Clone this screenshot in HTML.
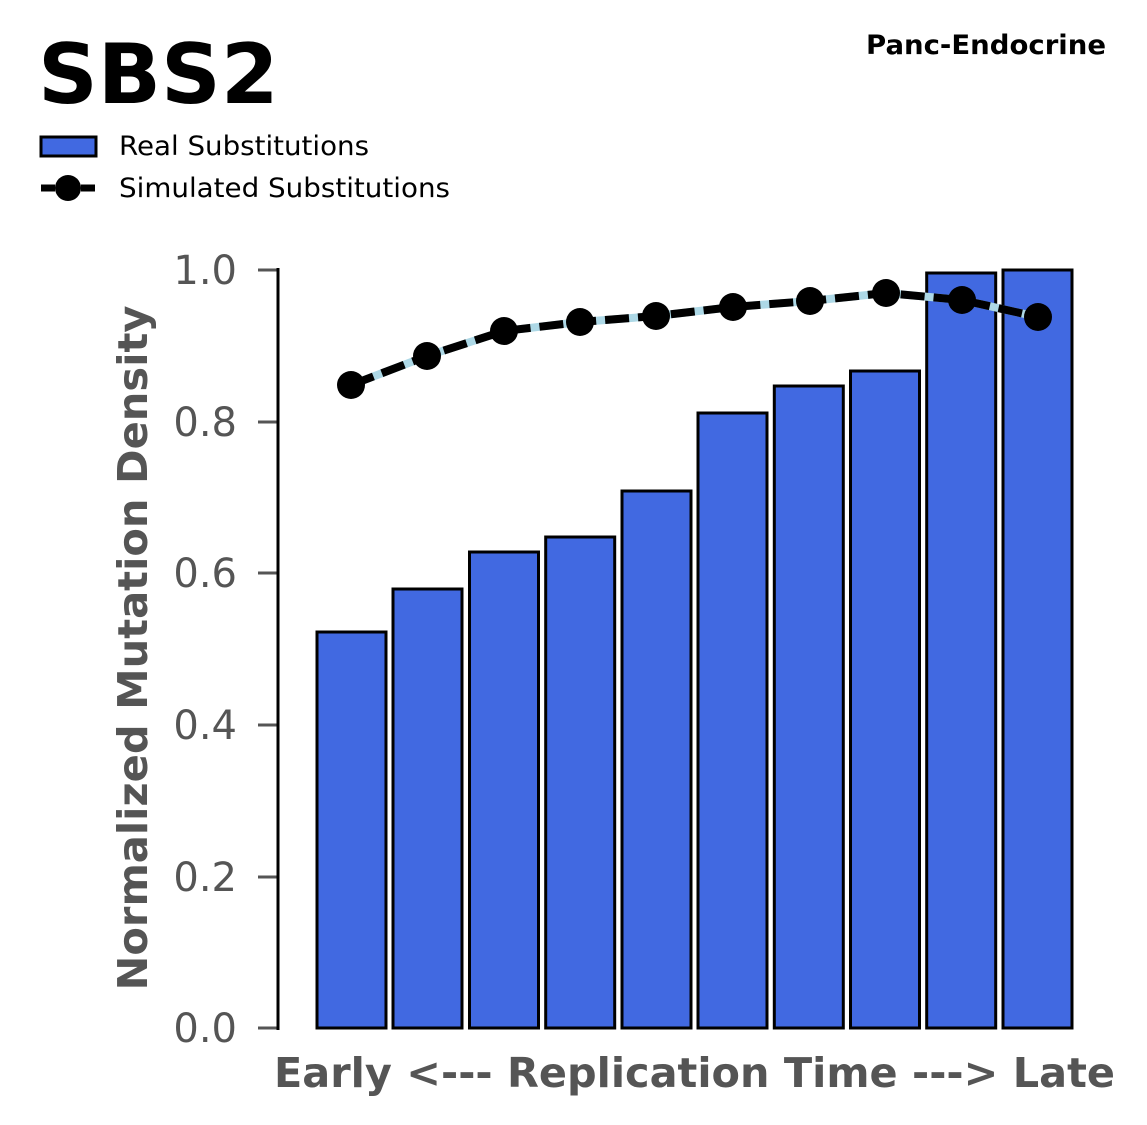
<!DOCTYPE html>
<html><head><meta charset="utf-8"><style>
html,body{margin:0;padding:0;background:#fff;}
svg{display:block;font-family:"DejaVu Sans","Liberation Sans",sans-serif;}
</style></head><body>
<svg width="1147" height="1125" viewBox="0 0 1147 1125">
<text x="38" y="103" font-size="83" font-weight="bold" fill="#000">SBS2</text>
<text x="1106" y="54" font-size="27" font-weight="bold" fill="#000" text-anchor="end" textLength="240" lengthAdjust="spacingAndGlyphs">Panc-Endocrine</text>
<rect x="41" y="137" width="55" height="19" fill="#4169e1" stroke="#000" stroke-width="3"/>
<text x="119" y="155" font-size="27" fill="#000" textLength="250" lengthAdjust="spacingAndGlyphs">Real Substitutions</text>
<line x1="41" y1="188" x2="96" y2="188" stroke="#000" stroke-width="7" stroke-dasharray="14,6"/>
<circle cx="68" cy="188" r="13" fill="#000"/>
<text x="119" y="197" font-size="27" fill="#000" textLength="331" lengthAdjust="spacingAndGlyphs">Simulated Substitutions</text>
<g stroke="#000" stroke-width="3" fill="#4169e1">
<rect x="317" y="632" width="69" height="396"/>
<rect x="393" y="589" width="69" height="439"/>
<rect x="469.5" y="552" width="69" height="476"/>
<rect x="545.7" y="537" width="69" height="491"/>
<rect x="622" y="491" width="69" height="537"/>
<rect x="698" y="413" width="69" height="615"/>
<rect x="774.3" y="386" width="69" height="642"/>
<rect x="850.5" y="371" width="69" height="657"/>
<rect x="926.7" y="273" width="69" height="755"/>
<rect x="1003" y="270" width="69" height="758"/>
</g>
<g stroke="#555" stroke-width="3">
<line x1="258" y1="270" x2="278" y2="270"/>
<line x1="258" y1="422" x2="278" y2="422"/>
<line x1="258" y1="573" x2="278" y2="573"/>
<line x1="258" y1="725" x2="278" y2="725"/>
<line x1="258" y1="877" x2="278" y2="877"/>
<line x1="258" y1="1028" x2="278" y2="1028"/>
</g>
<line x1="278" y1="268" x2="278" y2="1030" stroke="#000" stroke-width="3"/>
<g font-size="40" fill="#555" text-anchor="end">
<text x="237" y="284">1.0</text>
<text x="237" y="436">0.8</text>
<text x="237" y="587">0.6</text>
<text x="237" y="739">0.4</text>
<text x="237" y="891">0.2</text>
<text x="237" y="1042">0.0</text>
</g>
<text transform="translate(147,648) rotate(-90)" font-size="41" font-weight="bold" fill="#555" text-anchor="middle" textLength="685" lengthAdjust="spacingAndGlyphs">Normalized Mutation Density</text>
<text x="274" y="1087" font-size="41" font-weight="bold" fill="#555" textLength="841" lengthAdjust="spacingAndGlyphs">Early &lt;--- Replication Time ---&gt; Late</text>
<polyline points="351,385 427,356 504,331 580,322 656,316 733,307 810,301 886,293 962,300 1038,317" fill="none" stroke="#add8e6" stroke-width="8"/>
<polyline points="351,385 427,356 504,331 580,322 656,316 733,307 810,301 886,293 962,300 1038,317" fill="none" stroke="#000" stroke-width="8" stroke-dasharray="24,9"/>
<g fill="#000">
<circle cx="351" cy="385" r="14"/><circle cx="427" cy="356" r="14"/><circle cx="504" cy="331" r="14"/>
<circle cx="580" cy="322" r="14"/><circle cx="656" cy="316" r="14"/><circle cx="733" cy="307" r="14"/>
<circle cx="810" cy="301" r="14"/><circle cx="886" cy="293" r="14"/><circle cx="962" cy="300" r="14"/>
<circle cx="1038" cy="317" r="14"/>
</g>
</svg>
</body></html>
